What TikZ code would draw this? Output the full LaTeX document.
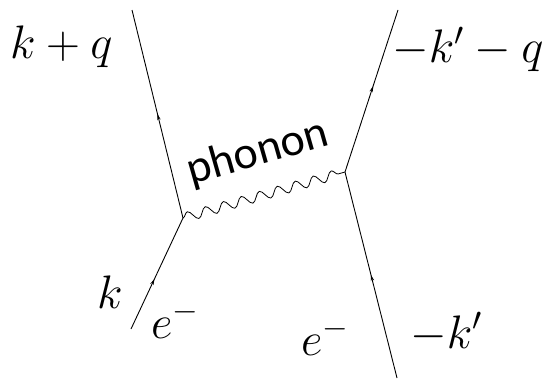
\RequirePackage{fix-cm}
\documentclass[tikz,border=0pt]{standalone}
\usepackage{fontspec}
\newfontfamily\calibri{Carlito}
\usetikzlibrary{decorations.pathmorphing,decorations.markings,arrows.meta}
\tikzset{
  fermion/.style={line width=0.9pt, postaction={decorate},
    decoration={markings, mark=at position #1 with {\arrow{Stealth[length=6pt,width=3.5pt]}}}},
  phononline/.style={line width=0.8pt, decorate,
    decoration={snake, segment length=18.7pt, amplitude=4.8pt}},
  lbl/.style={inner sep=0pt, anchor=base west, font=\fontsize{47}{52}\selectfont}
}
\begin{document}
\begin{tikzpicture}[x=1pt,y=-1pt]
\useasboundingbox (0,0) rectangle (558,380);
\coordinate (v1) at (183,218);
\coordinate (v2) at (345,172);
\coordinate (a1) at (131,329);
\coordinate (a2) at (132,10);
\coordinate (b1) at (397,378);
\coordinate (b2) at (398,10);
\draw[fermion=0.45] (a1) -- (v1);
\draw[fermion=0.5] (v1) -- (a2);
\draw[fermion=0.5] (b1) -- (v2);
\draw[fermion=0.53] (v2) -- (b2);
\draw[phononline] (v1) -- (v2);
\node[rotate=15.9, inner sep=0pt, font=\calibri\fontsize{46}{52}\selectfont] (ph) at (258,153) {phonon};
\node[lbl] (kq) at (10,58) {$k+q$};
\node[lbl] (kpq) at (392,63) {$-k'-q$};
\node[lbl] (k) at (97,308) {$k$};
\node[lbl] (e1) at (151,338) {$e^-$};
\node[lbl] (e2) at (301,355) {$e^-$};
\node[lbl] (kp) at (410,348) {$-k'$};
\end{tikzpicture}
\end{document}
